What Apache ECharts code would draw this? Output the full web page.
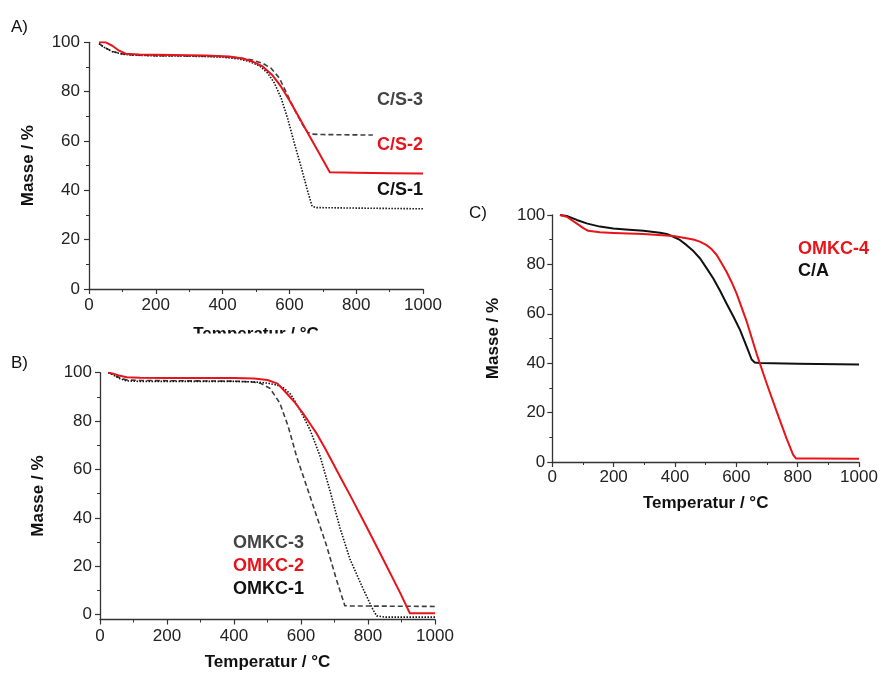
<!DOCTYPE html>
<html>
<head>
<meta charset="utf-8">
<script src="https://cdn.jsdelivr.net/npm/echarts@6/dist/echarts.min.js"></script>
<style>
  html, body { margin: 0; padding: 0; background: #ffffff; }
  #chart { width: 881px; height: 675px; }
</style>
</head>
<body>
<div id="chart"></div>
<script>
// ---- Panel A: C/S samples (temperature °C, mass %) ----
const tempCS3 = [30, 45, 70, 100, 130, 200, 300, 400, 450, 490, 520, 545, 570, 600, 620, 640, 655, 665, 700, 850];
const massCS3 = [99.5, 98, 96.3, 95.3, 94.9, 94.6, 94.5, 94.2, 93.7, 92.8, 91.5, 89.5, 85.5, 77, 71.5, 66.5, 63.5, 62.8, 62.6, 62.4];

const tempCS2 = [30, 50, 70, 90, 110, 150, 250, 350, 420, 460, 490, 520, 550, 575, 600, 630, 660, 690, 721, 800, 900, 1000];
const massCS2 = [100, 100, 98.6, 96.6, 95.4, 95.1, 94.9, 94.6, 94.2, 93.4, 92.2, 90.2, 86.5, 82, 76.5, 69.3, 62, 54.8, 47.3, 47.1, 46.9, 46.8];

const tempCS1 = [30, 45, 70, 100, 130, 200, 300, 400, 450, 480, 510, 535, 555, 575, 595, 615, 635, 655, 668, 680, 800, 1000];
const massCS1 = [99.5, 98, 96.2, 95.2, 94.8, 94.5, 94.4, 94, 93.2, 92.2, 90.5, 87.5, 83.5, 77.5, 69, 59, 49.5, 39.5, 33.5, 33, 32.8, 32.5];

// ---- Panel B: OMKC-1..3 ----
const tempOMKC3 = [25, 40, 60, 80, 120, 200, 300, 400, 450, 478, 507, 537, 562, 587, 617, 647, 677, 706, 731, 745, 1000];
const massOMKC3 = [100, 99.3, 97.8, 97, 96.8, 96.7, 96.6, 96.5, 96.2, 95.7, 93.6, 87.4, 77.7, 65.3, 53, 40.6, 28.2, 14.4, 3.7, 3.6, 3.4];

const tempOMKC2 = [25, 40, 60, 80, 120, 200, 300, 400, 460, 500, 530, 557, 580, 607, 630, 647, 670, 696, 720, 746, 796, 846, 896, 925, 950, 1000];
const massOMKC2 = [100, 99.6, 98.7, 98.1, 97.9, 97.8, 97.8, 97.8, 97.6, 97, 95.5, 91.5, 88, 83, 78.3, 74.8, 69.2, 62.5, 56.2, 49.5, 36.2, 22.7, 9, 0.6, 0.6, 0.6];

const tempOMKC1 = [25, 40, 60, 80, 120, 200, 300, 400, 460, 500, 530, 547, 570, 597, 627, 657, 687, 716, 746, 786, 815, 826, 850, 1000];
const massOMKC1 = [100, 99, 97.5, 96.6, 96.4, 96.4, 96.4, 96.4, 96.2, 95.7, 94.8, 93.8, 91, 84.6, 76.4, 65.5, 51, 36, 23, 10.5, 2, -0.5, -1, -1];

// ---- Panel C: OMKC-4 and C/A ----
const tempOMKC4 = [25, 47, 79, 100, 117, 155, 200, 297, 395, 460, 481, 503, 520, 536, 552, 568, 584, 601, 634, 666, 699, 732, 764, 785, 795, 850, 1000];
const massOMKC4 = [100, 99.3, 96.6, 94.8, 93.6, 93, 92.7, 92.3, 91.5, 90.1, 89.2, 87.8, 86.1, 83.8, 80.5, 77, 73, 68.2, 56.8, 43.9, 31.8, 20.3, 9.5, 3, 1.4, 1.4, 1.35];

const tempCA = [25, 47, 80, 112, 155, 199, 250, 297, 351, 373, 395, 416, 438, 460, 482, 503, 525, 547, 568, 590, 612, 634, 650, 660, 677, 800, 1000];
const massCA = [100, 99.6, 98, 96.6, 95.3, 94.5, 94, 93.6, 92.8, 92.3, 91.2, 89.9, 87.8, 85.4, 82.4, 78.5, 74.3, 69.3, 64.2, 59, 53.5, 46.6, 41.5, 40.3, 40.1, 39.8, 39.5];

const yTicks = [0, 20, 40, 60, 80, 100];

const FONT = "'Liberation Sans', Arial, Helvetica, sans-serif";
const RED = '#e8141b';
const GRAY = '#3f3f3f';
const BLACK = '#111111';

function pairs(t, m) { return t.map((v, i) => [v, m[i]]); }
const plain = v => String(v);

function xAxisFor(gridIndex, nameGap, labelMargin) {
  return {
    gridIndex, type: 'value', min: 0, max: 1000, interval: 200,
    name: 'Temperatur / °C', nameLocation: 'middle', nameGap,
    nameTextStyle: { fontFamily: FONT, fontWeight: 'bold', fontSize: 17, color: '#111' },
    axisLine: { onZero: false, lineStyle: { color: '#333', width: 1.3 } },
    axisTick: { inside: false, length: 5, lineStyle: { color: '#333', width: 1.2 } },
    minorTick: { show: true, splitNumber: 2, length: 3, lineStyle: { color: '#333', width: 1 } },
    axisLabel: { fontFamily: FONT, fontSize: 17, color: '#222', margin: labelMargin, formatter: plain },
    splitLine: { show: false }
  };
}

function yAxisFor(gridIndex, min, nameGap, labelMargin) {
  const ax = {
    gridIndex, type: 'value', min, max: 100,
    name: 'Masse / %', nameLocation: 'middle', nameGap, nameRotate: 90,
    nameTextStyle: { fontFamily: FONT, fontWeight: 'bold', fontSize: 17, color: '#111' },
    axisLine: { onZero: false, lineStyle: { color: '#333', width: 1.3 } },
    axisTick: { inside: false, length: 5, lineStyle: { color: '#333', width: 1.2 } },
    minorTick: { show: true, splitNumber: 2, length: 3, lineStyle: { color: '#333', width: 1 } },
    axisLabel: { fontFamily: FONT, fontSize: 17, color: '#222', margin: labelMargin, formatter: plain },
    splitLine: { show: false }
  };
  if (min === 0) {
    ax.interval = 20;
  } else {
    ax.axisLabel.customValues = yTicks;
    ax.axisTick.customValues = yTicks;
  }
  return ax;
}

function curve(name, t, m, xi, color, width, dash) {
  return {
    name, type: 'line', xAxisIndex: xi, yAxisIndex: xi,
    data: pairs(t, m), showSymbol: false, smooth: false,
    lineStyle: { color, width, type: dash, join: 'round', cap: 'butt' },
    z: color === RED ? 4 : 3, silent: true, animation: false
  };
}

function label(x, y, text, color, align) {
  return {
    type: 'text', x, y, z: 50,
    style: { text, fill: color, font: 'bold 18px ' + FONT, align: align || 'left', verticalAlign: 'middle' }
  };
}

function panelTag(x, y, text) {
  return {
    type: 'text', x, y, z: 50,
    style: { text, fill: '#111', font: '17px ' + FONT, align: 'left', verticalAlign: 'middle' }
  };
}

const chart = echarts.init(document.getElementById('chart'), null, { renderer: 'canvas' });

chart.setOption({
  backgroundColor: '#ffffff',
  animation: false,
  grid: [
    { left: 89, top: 42.3, width: 334, height: 246.7 },
    { left: 100, top: 372.7, width: 335, height: 246.8 },
    { left: 552.3, top: 215, width: 306.7, height: 247 }
  ],
  xAxis: [
    xAxisFor(0, 37, 8),
    xAxisFor(1, 34, 8),
    xAxisFor(2, 33, 7)
  ],
  yAxis: [
    yAxisFor(0, 0, 52, 9),
    yAxisFor(1, -2, 53, 8),
    yAxisFor(2, 0, 50, 7)
  ],
  series: [
    curve('C/S-3', tempCS3, massCS3, 0, GRAY, 1.6, [5, 3]),
    curve('C/S-1', tempCS1, massCS1, 0, BLACK, 1.6, [1.5, 1.5]),
    curve('C/S-2', tempCS2, massCS2, 0, RED, 2),
    curve('OMKC-3', tempOMKC3, massOMKC3, 1, GRAY, 1.6, [5, 3]),
    curve('OMKC-1', tempOMKC1, massOMKC1, 1, BLACK, 1.6, [1.5, 1.5]),
    curve('OMKC-2', tempOMKC2, massOMKC2, 1, RED, 2),
    curve('C/A', tempCA, massCA, 2, BLACK, 2),
    curve('OMKC-4', tempOMKC4, massOMKC4, 2, RED, 2)
  ],
  graphic: [
    // lower edge of panel A is cut off just below its axis title
    { type: 'rect', z: 100, shape: { x: 0, y: 333.5, width: 450, height: 18 }, style: { fill: '#ffffff' } },
    panelTag(11, 27, 'A)'),
    panelTag(11, 363, 'B)'),
    panelTag(469, 213, 'C)'),
    label(423, 100, 'C/S-3', '#444444', 'right'),
    label(423, 145, 'C/S-2', RED, 'right'),
    label(423, 190, 'C/S-1', BLACK, 'right'),
    label(233, 543.5, 'OMKC-3', '#444444'),
    label(233, 566, 'OMKC-2', RED),
    label(233, 589, 'OMKC-1', BLACK),
    label(798, 249.5, 'OMKC-4', RED),
    label(798, 271, 'C/A', BLACK)
  ]
});
</script>
</body>
</html>
